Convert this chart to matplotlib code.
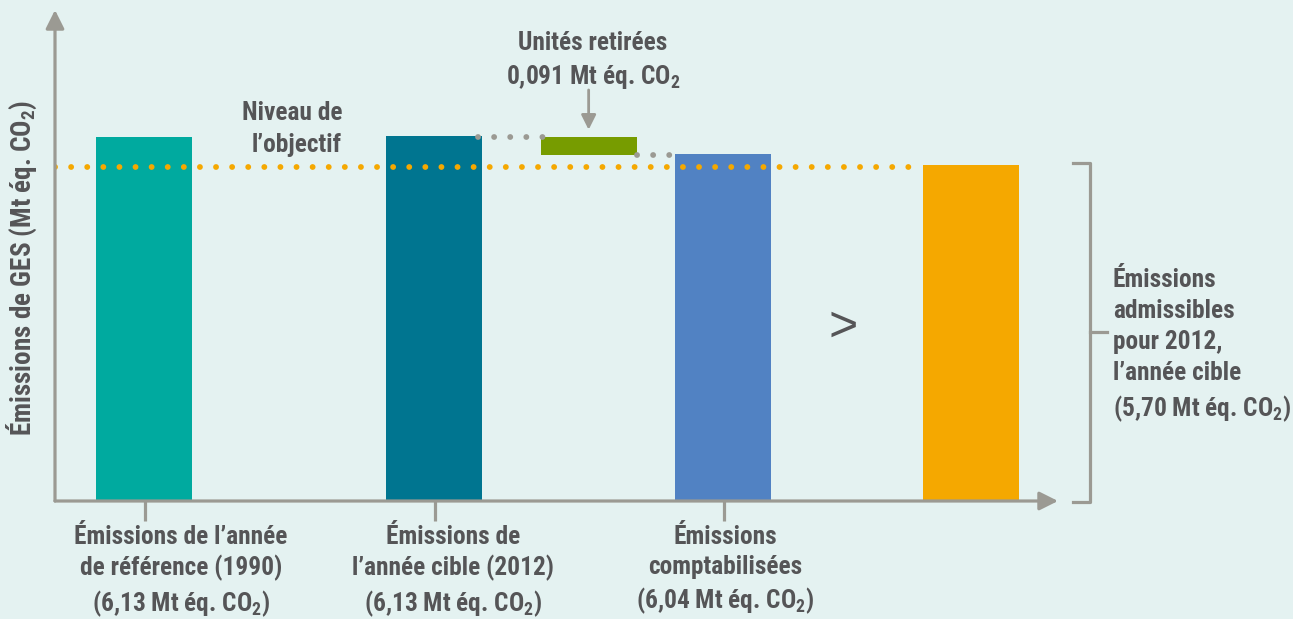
import matplotlib.pyplot as plt

# --- data (schematic heights, labels as printed) ---
bar_labels = ["Émissions de l’année\nde référence (1990)\n(6,13 Mt éq. CO$_\\mathbf{2}$)",
              "Émissions de\nl’année cible (2012)\n(6,13 Mt éq. CO$_\\mathbf{2}$)",
              "Émissions\ncomptabilisées\n(6,04 Mt éq. CO$_\\mathbf{2}$)",
              ""]
bar_values = [6.13, 6.13, 6.04, 5.70]          # Mt éq. CO2 as labelled
bar_heights = [6.13, 6.14, 5.84, 5.66]         # drawn heights (schematic)
bar_colors = ['#00aa9f', '#007590', '#5182c3', '#f5a800']
retired_top, retired_bottom = 6.12, 5.83       # green "unités retirées" block
target_level = 5.63

BG = '#e4f2f1'
GREY = '#9b9a93'
TXT = '#555557'
FONT = ['Roboto Condensed', 'DejaVu Sans']
FS = 18.3

plt.rcParams['font.family'] = FONT
plt.rcParams['font.weight'] = 'bold'
plt.rcParams['mathtext.fontset'] = 'custom'
plt.rcParams['mathtext.bf'] = 'Roboto Condensed:bold'
plt.rcParams['mathtext.rm'] = 'Roboto Condensed:bold'

W, H = 1293, 619
fig = plt.figure(figsize=(W / 100, H / 100), dpi=100, facecolor=BG)

def fx(x):
    return x / W

def fy(y):
    return 1 - y / H

# axes: origin at pixel (55, 501), top at y=10, right at x=1058
ax = fig.add_axes([fx(55), fy(501), fx(1058 - 55), (501 - 10) / H])
ax.set_facecolor('none')
for s in ax.spines.values():
    s.set_visible(False)
ax.set_xticks([])
ax.set_yticks([])

unit_x = 290.0                      # pixels per x unit
xpos = [0, 1, 1.9965, 2.852]        # bar centre positions
width = 96 / unit_x
x0 = -(144 - 55) / unit_x
ax.set_xlim(x0, x0 + (1058 - 55) / unit_x)
ax.set_ylim(0, 491 / 59.4)

ax.bar(xpos, bar_heights, width=width, color=bar_colors, zorder=2)

# green retired block between bar 2 and bar 3
gx = (xpos[1] + xpos[2]) / 2 + 0.035
ax.bar([gx], [retired_top - retired_bottom], bottom=[retired_bottom], width=width,
       color='#779c00', zorder=2)

# target level dotted orange line
ax.plot([x0, xpos[3] - width / 2 - 0.01], [target_level, target_level], color='#f5a800',
        lw=4.2, linestyle=(0, (0.01, 2.75)), dash_capstyle='round', zorder=3)

# grey connector dots
ax.plot([xpos[1] + width / 2 - 0.015, gx - width / 2 + 0.02], [retired_top, retired_top],
        color=GREY, lw=4.2, linestyle=(0, (0.01, 2.75)), dash_capstyle='round', zorder=3)
ax.plot([gx + width / 2, xpos[2] - width / 2 + 0.03], [retired_bottom, retired_bottom],
        color=GREY, lw=4.2, linestyle=(0, (0.01, 2.75)), dash_capstyle='round', zorder=3)

# axis arrows
ax.annotate('', xy=(0, 1), xycoords='axes fraction', xytext=(0, 0),
            arrowprops=dict(arrowstyle='-|>', color=GREY, lw=2.3, mutation_scale=28,
                            shrinkA=0, shrinkB=0))
ax.annotate('', xy=(1, 0), xycoords='axes fraction', xytext=(0, 0),
            arrowprops=dict(arrowstyle='-|>', color=GREY, lw=2.3, mutation_scale=28,
                            shrinkA=0, shrinkB=0))

# tick marks under the first three bars
for i in range(3):
    ax.plot([xpos[i] + 0.005, xpos[i] + 0.005], [0, -20 / 59.4], color=GREY, lw=2.3,
            clip_on=False, solid_capstyle='butt')

# category labels
label_x = [181, 453, 725]
for i in range(3):
    fig.text(fx(label_x[i]), fy(525), bar_labels[i], ha='center', va='top',
             fontsize=FS, color=TXT, linespacing=1.3)

# y label
fig.text(fx(22), fy(268), 'Émissions de GES (Mt éq. CO$_\\mathbf{2}$)', rotation=90,
         ha='center', va='center', fontsize=19.5, color=TXT)

# objective label
fig.text(fx(342), fy(129), 'Niveau de\nl’objectif', ha='right', va='center',
         fontsize=FS, color=TXT, linespacing=1.38)

# retired units label + arrow
fig.text(fx(593), fy(61), 'Unités retirées\n0,091 Mt éq. CO$_\\mathbf{2}$', ha='center',
         va='center', fontsize=FS, color=TXT, linespacing=1.4)
ax.annotate('', xy=(gx, retired_top + 0.13), xytext=(gx, retired_top + 0.8),
            arrowprops=dict(arrowstyle='-|>', color=GREY, lw=2.0, mutation_scale=22,
                            shrinkA=0, shrinkB=0))

# ">" sign
fig.text(fx(843), fy(328), '>', ha='center', va='center', fontsize=36,
         fontweight='normal', family=['Liberation Sans', 'DejaVu Sans'], color=TXT)

# bracket for allowed emissions
bx = 1090
fig.add_artist(plt.Line2D([fx(1073), fx(bx), fx(bx), fx(1073)],
                          [fy(163), fy(163), fy(502), fy(502)], color=GREY, lw=2.3))
fig.add_artist(plt.Line2D([fx(bx), fx(1107)], [fy(332), fy(332)], color=GREY, lw=2.3))
fig.text(fx(1113), fy(346),
         'Émissions\nadmissibles\npour 2012,\nl’année cible\n(5,70 Mt éq. CO$_\\mathbf{2}$)',
         ha='left', va='center', fontsize=FS, color=TXT, linespacing=1.38)

fig.savefig('out.png', dpi=100, facecolor=BG)
